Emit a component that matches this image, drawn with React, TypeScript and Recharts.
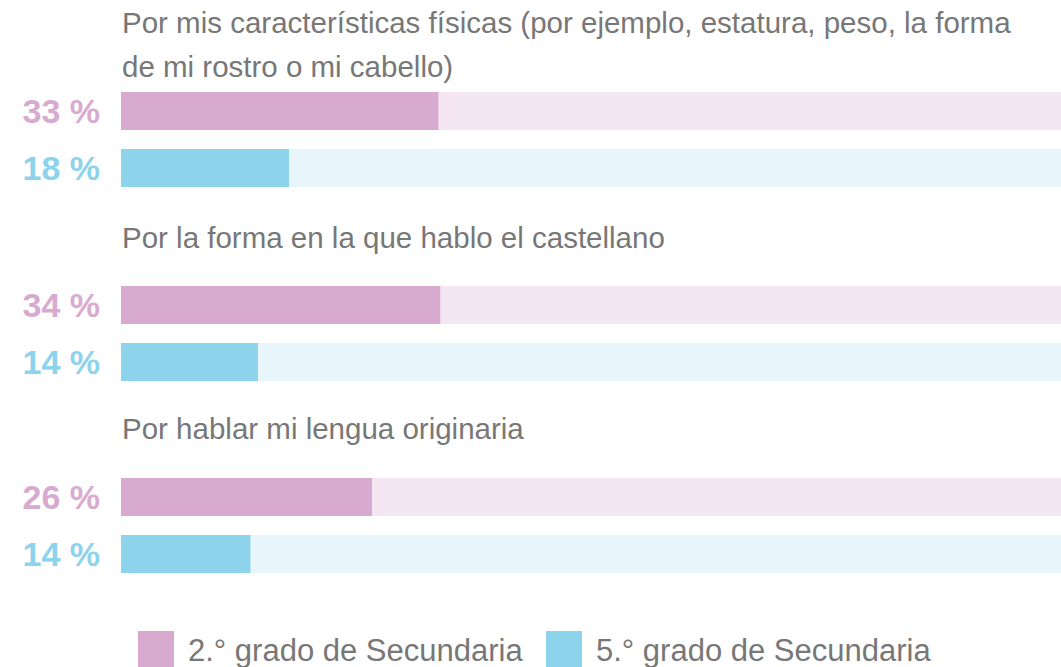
import React from 'react';
import { BarChart, Bar, XAxis, YAxis, Cell } from 'recharts';

const titles = [
  ['Por mis características físicas (por ejemplo, estatura, peso, la forma', 'de mi rostro o mi cabello)'],
  ['Por la forma en la que hablo el castellano'],
  ['Por hablar mi lengua originaria'],
];
const grade2Values = [33.8, 34.0, 26.7];
const grade5Values = [17.9, 14.6, 13.8];
const grade2Labels = ['33 %', '34 %', '26 %'];
const grade5Labels = ['18 %', '14 %', '14 %'];
const seriesNames = ['2.° grado de Secundaria', '5.° grado de Secundaria'];

const MAIN = ['#D8AACF', '#8DD3EC'];
const LIGHT = ['#F5E7F2', '#E8F5FB'];
const FONT = '"Liberation Sans", Arial, sans-serif';
const TEXT = '#777777';

const LabelTick = (props: any) => {
  const { x, y, payload } = props;
  const i = payload.index ?? 0;
  return (
    <text x={x} y={y} dy={0.5} textAnchor="end" dominantBaseline="central" fill={MAIN[i]}
      fontSize={34} fontWeight="bold" fontFamily={FONT}>
      {payload.value}
    </text>
  );
};

const Group = ({ g, top }: { g: number; top: number }) => {
  const data = [
    { label: grade2Labels[g], value: grade2Values[g], rest: 100 - grade2Values[g] },
    { label: grade5Labels[g], value: grade5Values[g], rest: 100 - grade5Values[g] },
  ];
  return (
    <div style={{ position: 'absolute', left: 0, top }}>
      <BarChart width={1061} height={114} data={data} layout="vertical"
        margin={{ top: 0, right: 0, bottom: 0, left: 0 }} barCategoryGap={0}>
        <XAxis type="number" domain={[0, 100]} hide />
        <YAxis type="category" dataKey="label" width={121} axisLine={false} tickLine={false}
          tickSize={0} tickMargin={21} tick={<LabelTick />} />
        <Bar dataKey="value" stackId="a" barSize={38} isAnimationActive={false}>
          {data.map((_, i) => <Cell key={i} fill={MAIN[i]} />)}
        </Bar>
        <Bar dataKey="rest" stackId="a" barSize={38} isAnimationActive={false}>
          {data.map((_, i) => <Cell key={i} fill={LIGHT[i]} />)}
        </Bar>
      </BarChart>
    </div>
  );
};

const Title = ({ lines, top }: { lines: string[]; top: number }) => (
  <div style={{ position: 'absolute', left: 122, top, fontFamily: FONT, fontSize: 29.5, color: TEXT, lineHeight: '44px', whiteSpace: 'nowrap' }}>
    {lines.map((l, i) => <div key={i}>{l}</div>)}
  </div>
);

export default function App() {
  const titleTops = [0.8, 216, 406.8];
  const chartTops = [81.5, 275.5, 467.5];
  const legendLefts = [138, 546];
  return (
    <div style={{ position: 'absolute', left: 0, top: 0, width: 1061, height: 667, overflow: 'hidden', background: '#fff' }}>
      {titles.map((t, g) => <Title key={g} lines={t} top={titleTops[g]} />)}
      {titles.map((_, g) => <Group key={g} g={g} top={chartTops[g]} />)}
      {seriesNames.map((n, i) => (
        <React.Fragment key={i}>
          <div style={{ position: 'absolute', left: legendLefts[i], top: 631, width: 36, height: 36, background: MAIN[i] }} />
          <div style={{ position: 'absolute', left: legendLefts[i] + 50, top: 634.7, fontFamily: FONT, fontSize: 31, lineHeight: '31px', color: TEXT, whiteSpace: 'nowrap' }}>
            {n}
          </div>
        </React.Fragment>
      ))}
    </div>
  );
}
